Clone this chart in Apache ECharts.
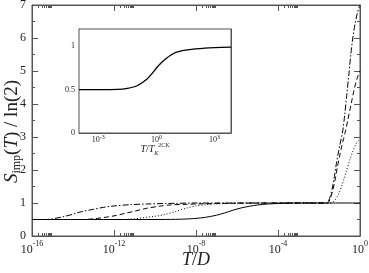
<!DOCTYPE html>
<html><head><meta charset="utf-8">
<script src="https://cdn.jsdelivr.net/npm/echarts@6/dist/echarts.min.js"></script>
<style>html,body{margin:0;padding:0;background:#fff}#c{width:369px;height:273px}</style>
</head><body><div id="c"></div>
<script>
// ---- data (x values are log10(T/D)) ----
const solidLogT = [-16, -12, -10, -9, -8.3, -7.6, -7.0, -6.6, -6.2, -5.8, -5.4, -5.0, -4.5, -4.0, -3.0, -1.5, 0];
const solidS    = [0.5, 0.5, 0.5, 0.505, 0.52, 0.56, 0.63, 0.70, 0.78, 0.85, 0.90, 0.94, 0.97, 0.985, 1.0, 1.0, 1.0];

const dashedLogT = [-16, -13.5, -13, -12.5, -12, -11.5, -11, -10.4, -9.8, -9.3, -8.5, -8, -7, -6, -3, -1.6, -1.5, -1.4, -1.3, -1.2, -1.1, -1.0, -0.9, -0.8, -0.7, -0.6, -0.5, -0.4, -0.3, -0.2, -0.1, 0];
const dashedS    = [0.5, 0.5, 0.52, 0.56, 0.61, 0.68, 0.75, 0.84, 0.9, 0.94, 0.96, 0.97, 0.985, 0.995, 1.0, 1.0, 1.06, 1.22, 1.45, 1.75, 2.1, 2.4, 2.7, 2.95, 3.2, 3.5, 3.8, 4.1, 4.4, 4.65, 4.85, 5.0];

const dashDotLogT = [-16, -15.3, -15, -14.5, -14, -13.7, -13, -12.5, -12, -11.2, -10.4, -9.5, -9, -8, -3, -1.65, -1.55, -1.45, -1.35, -1.25, -1.15, -1.05, -0.95, -0.85, -0.75, -0.65, -0.55, -0.45, -0.35, -0.25, -0.15, -0.05, 0];
const dashDotS    = [0.5, 0.5, 0.52, 0.58, 0.66, 0.72, 0.81, 0.87, 0.91, 0.95, 0.97, 0.985, 0.99, 1.0, 1.0, 1.0, 1.05, 1.2, 1.45, 1.8, 2.2, 2.55, 2.85, 3.15, 3.65, 4.25, 4.85, 5.5, 6.0, 6.4, 6.7, 6.93, 7.0];

const dottedLogT = [-16, -11.5, -11, -10.5, -10, -9.6, -9, -8.5, -8, -7.5, -7, -6, -5, -3, -1.5, -1.3, -1.2, -1.1, -1.0, -0.9, -0.8, -0.65, -0.5, -0.33, -0.2, -0.1, 0];
const dottedS    = [0.5, 0.5, 0.52, 0.56, 0.6, 0.64, 0.74, 0.84, 0.91, 0.95, 0.975, 0.99, 1.0, 1.0, 1.0, 1.04, 1.1, 1.2, 1.33, 1.5, 1.7, 2.0, 2.3, 2.6, 2.78, 2.88, 2.93];

// inset (x = log10(T/T_K^2CK))
const insetLogT = [-4, -3, -2, -1.5, -1, -0.5, -0.25, 0, 0.25, 0.5, 0.75, 1, 1.5, 2, 2.5, 3, 3.85];
const insetS    = [0.5, 0.5, 0.503, 0.515, 0.545, 0.62, 0.68, 0.75, 0.81, 0.86, 0.9, 0.93, 0.955, 0.97, 0.98, 0.985, 0.99];

// tick labels
const mainXTicks = [-16, -12, -8, -4, 0];
const mainYTicks = [0, 1, 2, 3, 4, 5, 6, 7];
const insetXTicks = [-3, 0, 3];
const insetYTicks = [0, 0.5, 1];
const insetYMinor = [0, 0.25, 0.5, 0.75, 1];

// ---- helpers ----
const FONT = 'Liberation Serif';
const AX = '#555';
const TXT = '#222';
function logMinor(decades) {
  const out = [];
  decades.forEach(d => { for (let k = 2; k <= 9; k++) out.push(d + Math.log10(k)); });
  return out;
}
function pairs(xs, ys) { return xs.map((x, i) => [x, ys[i]]); }
function expLabel(v) {
  const e = Math.round(v);
  return '{b|10}{s|' + (e < 0 ? '-' + Math.abs(e) : e) + '}';
}

function xAxes(grid, min, max, majors, minors, big, showLabels, labelRich, labelMargin, nameObj) {
  const base = {gridIndex: grid, type: 'value', min: min, max: max, splitLine: {show: false}};
  const axes = [];
  axes.push(Object.assign({}, base, {
    position: 'bottom',
    axisLine: {show: true, onZero: false, lineStyle: {color: AX, width: 1}},
    axisTick: {show: true, inside: true, length: big, customValues: majors, lineStyle: {color: AX}},
    axisLabel: {show: showLabels, customValues: majors, formatter: expLabel, rich: labelRich, margin: labelMargin, color: TXT, fontFamily: FONT}
  }, nameObj || {}));
  axes.push(Object.assign({}, base, {
    position: 'bottom',
    axisLine: {show: false, onZero: false},
    axisTick: {show: true, inside: true, length: big / 2, customValues: minors, lineStyle: {color: AX}},
    axisLabel: {show: false}
  }));
  axes.push(Object.assign({}, base, {
    position: 'top',
    axisLine: {show: true, onZero: false, lineStyle: {color: AX, width: 1}},
    axisTick: {show: true, inside: true, length: big, customValues: majors, lineStyle: {color: AX}},
    axisLabel: {show: false}
  }));
  axes.push(Object.assign({}, base, {
    position: 'top',
    axisLine: {show: false, onZero: false},
    axisTick: {show: true, inside: true, length: big / 2, customValues: minors, lineStyle: {color: AX}},
    axisLabel: {show: false}
  }));
  return axes;
}

const mainRich = {
  b: {fontSize: 12, fontFamily: FONT, color: TXT, lineHeight: 16, verticalAlign: 'bottom'},
  s: {fontSize: 8, fontFamily: FONT, color: TXT, lineHeight: 8, verticalAlign: 'top'}
};
const insetRich = {
  b: {fontSize: 8, fontFamily: FONT, color: TXT, lineHeight: 10, verticalAlign: 'bottom'},
  s: {fontSize: 6, fontFamily: FONT, color: TXT, lineHeight: 6, verticalAlign: 'top'}
};

const xAxisList = [].concat(
  xAxes(0, -16, 0, mainXTicks, logMinor([-16, -12, -8, -4]), 6, true, mainRich, 4, {
    name: '{i|T}{r|/}{i|D}', nameLocation: 'middle', nameGap: 15, nameMoveOverlap: false,
    nameTextStyle: {rich: {
      i: {fontFamily: FONT, fontStyle: 'italic', fontSize: 18, color: TXT},
      r: {fontFamily: FONT, fontSize: 18, color: TXT}
    }}
  }),
  xAxes(1, -4, 3.85, insetXTicks, logMinor([-3, 0, 3]), 5, true, insetRich, 1, {
    name: '{i|T}{r|/}{i|T}{sub|K}{sup|2CK}', nameLocation: 'middle', nameGap: 9, nameMoveOverlap: false,
    nameTextStyle: {rich: {
      i: {fontFamily: FONT, fontStyle: 'italic', fontSize: 10, color: TXT, lineHeight: 14, verticalAlign: 'middle'},
      r: {fontFamily: FONT, fontSize: 10, color: TXT, lineHeight: 14, verticalAlign: 'middle'},
      sub: {fontFamily: FONT, fontStyle: 'italic', fontSize: 6, color: TXT, lineHeight: 6, verticalAlign: 'bottom'},
      sup: {fontFamily: FONT, fontSize: 6, color: TXT, lineHeight: 6, verticalAlign: 'top'}
    }}
  })
);

function yAxesMain() {
  const base = {gridIndex: 0, type: 'value', min: 0, max: 7, interval: 1, splitLine: {show: false}};
  return [
    Object.assign({}, base, {
      position: 'left',
      axisLine: {show: true, onZero: false, lineStyle: {color: AX}},
      axisTick: {show: true, inside: true, length: 6, lineStyle: {color: AX}},
      minorTick: {show: true, splitNumber: 2, length: 3, lineStyle: {color: AX}},
      axisLabel: {show: true, margin: 6, fontSize: 12, fontFamily: FONT, color: TXT},
      name: '{i|S}{sub|imp}{r|(}{i|T}{r|) / ln(2)}', nameLocation: 'middle', nameGap: 9, nameMoveOverlap: false,
      nameTextStyle: {padding: [0, 22, 0, 0], rich: {
        i: {fontFamily: FONT, fontStyle: 'italic', fontSize: 19, color: TXT, lineHeight: 22, verticalAlign: 'middle'},
        r: {fontFamily: FONT, fontSize: 19, color: TXT, lineHeight: 22, verticalAlign: 'middle'},
        sub: {fontFamily: FONT, fontSize: 12, color: TXT, lineHeight: 12, verticalAlign: 'bottom'}
      }}
    }),
    Object.assign({}, base, {
      position: 'right',
      axisLine: {show: true, onZero: false, lineStyle: {color: AX}},
      axisTick: {show: true, inside: true, length: 6, lineStyle: {color: AX}},
      minorTick: {show: true, splitNumber: 2, length: 3, lineStyle: {color: AX}},
      axisLabel: {show: false}
    })
  ];
}
function yAxesInset() {
  const base = {gridIndex: 1, type: 'value', min: 0, max: 1.2, splitLine: {show: false}};
  return [
    Object.assign({}, base, {
      position: 'left',
      axisLine: {show: true, onZero: false, lineStyle: {color: AX}},
      axisTick: {show: true, inside: true, length: 4, customValues: insetYMinor, lineStyle: {color: AX}},
      axisLabel: {show: true, customValues: insetYTicks, margin: 4, fontSize: 8, fontFamily: FONT, color: TXT}
    }),
    Object.assign({}, base, {
      position: 'right',
      axisLine: {show: true, onZero: false, lineStyle: {color: AX}},
      axisTick: {show: true, inside: true, length: 4, customValues: insetYMinor, lineStyle: {color: AX}},
      axisLabel: {show: false}
    })
  ];
}

const lineBase = {type: 'line', showSymbol: false, smooth: 0.3, animation: false, clip: true};
const option = {
  animation: false,
  backgroundColor: '#fff',
  grid: [
    {left: 32, top: 5, width: 328, height: 231, containLabel: false, outerBoundsMode: 'none',
     show: true, backgroundColor: 'transparent', borderColor: AX, borderWidth: 1},
    {left: 79, top: 29, width: 152, height: 104, containLabel: false, outerBoundsMode: 'none',
     show: true, backgroundColor: '#fff', borderColor: AX, borderWidth: 1, z: 5}
  ],
  xAxis: xAxisList,
  yAxis: yAxesMain().concat(yAxesInset()),
  series: [
    Object.assign({}, lineBase, {name: 'solid', xAxisIndex: 0, yAxisIndex: 0, data: pairs(solidLogT, solidS),
      lineStyle: {color: '#000', width: 1, type: 'solid'}}),
    Object.assign({}, lineBase, {name: 'dashed', xAxisIndex: 0, yAxisIndex: 0, data: pairs(dashedLogT, dashedS),
      lineStyle: {color: '#000', width: 1, type: [5, 3]}}),
    Object.assign({}, lineBase, {name: 'dashdot', xAxisIndex: 0, yAxisIndex: 0, data: pairs(dashDotLogT, dashDotS),
      lineStyle: {color: '#000', width: 1, type: [6, 2, 1.5, 2]}}),
    Object.assign({}, lineBase, {name: 'dotted', xAxisIndex: 0, yAxisIndex: 0, data: pairs(dottedLogT, dottedS),
      lineStyle: {color: '#000', width: 1, type: [1, 2]}}),
    Object.assign({}, lineBase, {name: 'inset', xAxisIndex: 4, yAxisIndex: 2, data: pairs(insetLogT, insetS),
      lineStyle: {color: '#000', width: 1.3, type: 'solid'}, z: 6})
  ]
};
const chart = echarts.init(document.getElementById('c'), null, {renderer: 'canvas'});
chart.setOption(option);
</script>
</body></html>
